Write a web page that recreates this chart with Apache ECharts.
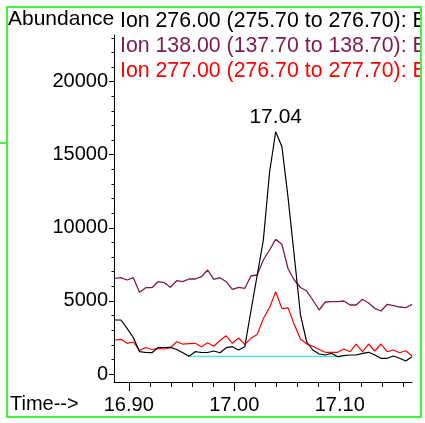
<!DOCTYPE html>
<html>
<head>
<meta charset="utf-8">
<script src="https://cdn.jsdelivr.net/npm/echarts@6/dist/echarts.min.js"></script>
<style>
  html, body { margin: 0; padding: 0; background: #fff; }
  #chart { width: 422px; height: 423px; }
</style>
</head>
<body>
<div id="chart"></div>
<script>
// Scan times (min)
const times = [
  16.8867, 16.8926, 16.8984, 16.9043, 16.9102, 16.9161, 16.9219, 16.9278, 16.9337, 16.9395,
  16.9454, 16.9513, 16.9571, 16.9630, 16.9689, 16.9748, 16.9806, 16.9865, 16.9924, 16.9982,
  17.0041, 17.0100, 17.0158, 17.0217, 17.0276, 17.0335, 17.0393, 17.0452, 17.0511, 17.0569,
  17.0628, 17.0687, 17.0745, 17.0804, 17.0863, 17.0922, 17.0980, 17.1039, 17.1098, 17.1156,
  17.1215, 17.1274, 17.1332, 17.1391, 17.1450, 17.1509, 17.1567, 17.1626, 17.1685
];

// Extracted ion abundances
const ion276 = [
  3694, 3694, 3126, 2497, 1525, 1471, 1457, 1813, 1813, 1826,
  1676, 1457, 1211, 1525, 1471, 1471, 1573, 1457, 1800, 1867,
  1642, 1867, 4309, 6737, 9166, 13817, 16573, 15547, 12018, 8071,
  4036, 2189, 1642, 1368, 1300, 1416, 1183, 1252, 1300, 1300,
  1416, 1484, 1300, 1074, 1074, 1231, 1074, 889, 1183
];
const ion138 = [
  6546, 6587, 6430, 6587, 5588, 5903, 5903, 6313, 6245, 5930,
  6382, 6313, 6498, 6498, 6655, 7114, 6477, 6587, 6313, 5794,
  5930, 5862, 6703, 6772, 7798, 8482, 9213, 8858, 7182, 6430,
  5917, 5677, 5062, 4378, 4925, 4945, 4945, 4993, 4720, 4720,
  5110, 4856, 4494, 4309, 4767, 4685, 4583, 4535, 4767
];
const ion277 = [
  2326, 2373, 2100, 2189, 1607, 1813, 1676, 1758, 1710, 1799,
  2209, 2038, 2073, 2100, 1867, 2134, 1902, 2291, 2613, 2100,
  2462, 2031, 2442, 2695, 3800, 4550, 5629, 4470, 4520, 3380,
  2400, 2050, 1900, 1680, 1484, 1484, 1484, 1710, 1525, 2052,
  1525, 2052, 1573, 2052, 1525, 1642, 1457, 1594, 1231
];

// Integration baseline under the 17.04 peak
const baselineTimes = [16.9571, 17.0980];
const baselineLevel = [1200, 1200];

const ionNames = [
  'Ion 276.00 (275.70 to 276.70): B',
  'Ion 138.00 (137.70 to 138.70): B',
  'Ion 277.00 (276.70 to 277.70): B'
];
const ionColors = ['#000000', '#7d1a50', '#ff0000'];

// Axis ticks
const yMajorTicks = [0, 5000, 10000, 15000, 20000];
const yMinorTicks = [1000, 2000, 3000, 4000, 6000, 7000, 8000, 9000, 11000, 12000, 13000, 14000,
  16000, 17000, 18000, 19000, 21000, 22000, 23000];
const xMajorTicks = [16.90, 17.00, 17.10];
const xMinorTicks = [16.92, 16.94, 16.96, 16.98, 17.02, 17.04, 17.06, 17.08, 17.12, 17.14, 17.16];

const FONT = "'Liberation Sans', Arial, sans-serif";
const X_MIN = 16.886, X_MAX = 17.1685;
const Y_MIN = -547, Y_MAX = 23190;

const pairs = (xs, ys) => xs.map((x, i) => [x, ys[i]]);
const apexIdx = ion276.indexOf(Math.max(...ion276));

const chart = echarts.init(document.getElementById('chart'), null, { renderer: 'canvas' });

const axisLineStyle = { color: '#000', width: 1 };

chart.setOption({
  animation: false,
  backgroundColor: '#fff',
  textStyle: { fontFamily: FONT },
  grid: { left: 114, top: 35, width: 298, height: 347, containLabel: false, outerBoundsMode: 'none' },
  legend: {
    orient: 'vertical',
    left: 115,
    top: 10.5,
    padding: 0,
    itemWidth: 0,
    itemHeight: 0,
    itemGap: 4,
    selectedMode: false,
    icon: 'rect',
    textStyle: { fontSize: 21.3, lineHeight: 21, fontFamily: FONT },
    data: ionNames.map((n, i) => ({ name: n, textStyle: { color: ionColors[i] } }))
  },
  xAxis: [
    {
      type: 'value', min: X_MIN, max: X_MAX, position: 'bottom',
      axisLine: { show: true, onZero: false, lineStyle: axisLineStyle },
      axisTick: { show: true, length: 9, customValues: xMajorTicks, lineStyle: axisLineStyle },
      axisLabel: { customValues: xMajorTicks, formatter: v => v.toFixed(2), margin: 13,
        fontSize: 20, color: '#000', fontFamily: FONT },
      splitLine: { show: false }
    },
    {
      type: 'value', min: X_MIN, max: X_MAX, position: 'bottom', offset: 0,
      axisLine: { show: false, onZero: false },
      axisTick: { show: true, length: 5, customValues: xMinorTicks, lineStyle: axisLineStyle },
      axisLabel: { show: false },
      splitLine: { show: false }
    }
  ],
  yAxis: [
    {
      type: 'value', min: Y_MIN, max: Y_MAX, position: 'left',
      axisLine: { show: true, onZero: false, lineStyle: axisLineStyle },
      axisTick: { show: true, length: 5, customValues: yMajorTicks, lineStyle: axisLineStyle },
      axisLabel: { customValues: yMajorTicks, formatter: v => String(v), margin: 6,
        fontSize: 20, color: '#000', fontFamily: FONT },
      splitLine: { show: false }
    },
    {
      type: 'value', min: Y_MIN, max: Y_MAX, position: 'left', offset: 0,
      axisLine: { show: false, onZero: false },
      axisTick: { show: true, length: 2.5, customValues: yMinorTicks, lineStyle: axisLineStyle },
      axisLabel: { show: false },
      splitLine: { show: false }
    }
  ],
  series: [
    {
      name: ionNames[1], type: 'line', data: pairs(times, ion138), showSymbol: false,
      lineStyle: { color: ionColors[1], width: 1.3 }, itemStyle: { color: ionColors[1] }, z: 2
    },
    {
      name: ionNames[2], type: 'line', data: pairs(times, ion277), showSymbol: false,
      lineStyle: { color: ionColors[2], width: 1.2 }, itemStyle: { color: ionColors[2] }, z: 3
    },
    {
      name: 'baseline', type: 'line', data: pairs(baselineTimes, baselineLevel), showSymbol: false,
      lineStyle: { color: '#3ee6e6', width: 1.3 }, z: 3
    },
    {
      name: ionNames[0], type: 'line', data: pairs(times, ion276), showSymbol: false,
      lineStyle: { color: ionColors[0], width: 1.2 }, itemStyle: { color: ionColors[0] }, z: 4
    },
    {
      name: 'apex', type: 'scatter', symbolSize: 0, z: 5,
      itemStyle: { color: '#000', opacity: 1 },
      data: [[times[apexIdx], ion276[apexIdx]]],
      label: {
        show: true, position: 'top', distance: 4,
        formatter: p => p.value[0].toFixed(2),
        fontSize: 21, color: '#000000', opacity: 1, fontFamily: FONT
      }
    }
  ],
  graphic: [
    { type: 'text', left: 8, top: 9, z: 10,
      style: { text: 'Abundance', font: '21px ' + FONT, fill: '#000' } },
    { type: 'text', left: 10, top: 394, z: 10,
      style: { text: 'Time-->', font: '20px ' + FONT, fill: '#000' } },
    { type: 'rect', z: 20, shape: { x: 7, y: 7, width: 414, height: 410 },
      style: { fill: 'none', stroke: '#3df53d', lineWidth: 2 } },
    { type: 'line', z: 20, shape: { x1: 0, y1: 143, x2: 7, y2: 143 },
      style: { stroke: '#3df53d', lineWidth: 2 } }
  ]
});
</script>
</body>
</html>
